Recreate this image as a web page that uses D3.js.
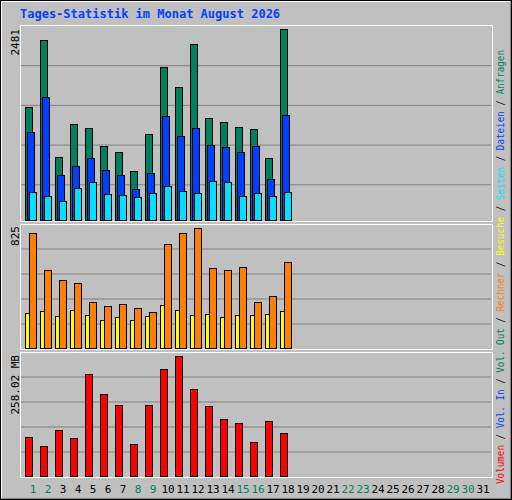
<!DOCTYPE html>
<html><head><meta charset="utf-8">
<script src="https://cdn.jsdelivr.net/npm/d3@7"></script>
<style>body{margin:0;background:#fff}</style>
</head><body>
<script>
const days = d3.range(1, 32);
const weekendDays = [1,2,8,9,15,16,22,23,29,30];
const anfragen = [1464,2334,814,1243,1191,957,879,633,1113,1984,1724,2286,1321,1269,1204,1178,801,2481];
const dateien  = [1139,1594,581,698,801,646,581,399,607,1347,1087,1191,970,944,879,957,529,1360];
const seiten   = [360,308,243,412,490,334,321,295,347,438,373,347,503,490,308,347,308,360];
const besuche  = [241,254,220,261,227,193,213,193,220,296,261,227,234,213,227,227,234,254];
const rechner  = [791,536,468,447,316,289,303,275,248,715,791,825,550,536,557,316,358,591];
const volumen  = [83.0,63.5,98.1,80.8,219.1,175.9,152.1,67.9,152.1,229.9,258.02,186.7,150.0,121.9,113.2,72.2,117.6,91.6];
const maxLabels = ["2481","825","258.02 MB"];
const title = "Tages-Statistik im Monat August 2026";
const C = {green:"#00805C", blue:"#0040FF", cyan:"#00E0FF", yellow:"#FFFF00", orange:"#FF8000", red:"#FF0000"};
const legend = [["Volumen",C.red],[" / ","#000"],["Vol. In",C.blue],[" / ","#000"],["Vol. Out",C.green],[" / ","#000"],
  ["Rechner",C.orange],[" / ","#000"],["Besuche",C.yellow],[" / ","#000"],["Seiten",C.cyan],[" / ","#000"],["Dateien",C.blue],[" / ","#000"],["Anfragen",C.green]];

const svg = d3.select("body").append("svg").attr("width",512).attr("height",500)
  .style("font-family","'DejaVu Sans Mono', monospace");
svg.append("rect").attr("x",0.5).attr("y",0.5).attr("width",511).attr("height",499).attr("fill","#C0C0C0").attr("stroke","#000");
svg.append("path").attr("d","M1.5,498.5V1.5H510.5").attr("fill","none").attr("stroke","#fff");
svg.append("path").attr("d","M1.5,498.5H510.5V1.5").attr("fill","none").attr("stroke","#808080");

svg.append("text").attr("x",20).attr("y",18).attr("fill",C.blue).attr("font-weight","bold")
  .attr("font-size",12).text(title);

const x = d3.scaleLinear().domain([1,31]).range([25,475]);
const panels = [
  {top:25,bottom:221,max:2481,y0:220,y1:29,grid:[65.7,105.4,145.1,184.8]},
  {top:224,bottom:349,max:825,y0:348,y1:228,grid:[249,274,299,324]},
  {top:352,bottom:477,max:258.02,y0:476,y1:356,grid:[377,402,427,452]}
];
panels.forEach((p,i)=>{
  const g = svg.append("g");
  g.selectAll("line.g").data(p.grid).join("line").attr("x1",21).attr("x2",491)
    .attr("y1",d=>d).attr("y2",d=>d).attr("stroke","#808080");
  g.append("path").attr("d",`M20.5,${p.bottom+0.5}V${p.top+0.5}H492.5`).attr("fill","none").attr("stroke","#fff").attr("stroke-width",1);
  g.append("path").attr("d",`M20.5,${p.bottom+0.5}H492.5V${p.top+0.5}`).attr("fill","none").attr("stroke","#fff").attr("stroke-width",1);
  p.y = d3.scaleLinear().domain([0,p.max]).range([p.y0,p.y1]);
  const lx = 19, ly = [29,226,355][i];
  svg.append("text").attr("transform",`translate(${lx},${ly}) rotate(-90)`).attr("text-anchor","end")
    .attr("font-size",11).attr("fill","#000").text(maxLabels[i]);
});

function bars(panel, data, off, w, color){
  const y = panels[panel].y;
  svg.append("g").selectAll("rect").data(data).join("rect")
    .attr("x",(d,i)=>Math.round(x(i+1)+off)+0.5).attr("width",w)
    .attr("y",d=>Math.round(y(d))+0.5).attr("height",d=>Math.max(0,Math.round(y(0))-Math.round(y(d))))
    .attr("fill",color).attr("stroke","#000");
}
bars(0, anfragen, 0, 7, C.green);
bars(0, dateien, 2, 7, C.blue);
bars(0, seiten, 4, 7, C.cyan);
bars(1, besuche, 0, 7, C.yellow);
bars(1, rechner, 4, 7, C.orange);
bars(2, volumen, 0, 7, C.red);

svg.append("g").selectAll("text").data(days).join("text")
  .attr("x",d=>x(d)+8).attr("y",493).attr("text-anchor","middle").attr("font-size",11)
  .attr("fill",d=>weekendDays.includes(d)?C.green:"#000").text(d=>d);

const t = svg.append("text").attr("transform","translate(504,484) rotate(-90)").attr("font-size",10.5)
  .attr("textLength",434).attr("lengthAdjust","spacingAndGlyphs");
legend.forEach(([s,c])=>t.append("tspan").attr("fill",c).text(s));
</script>
</body></html>
